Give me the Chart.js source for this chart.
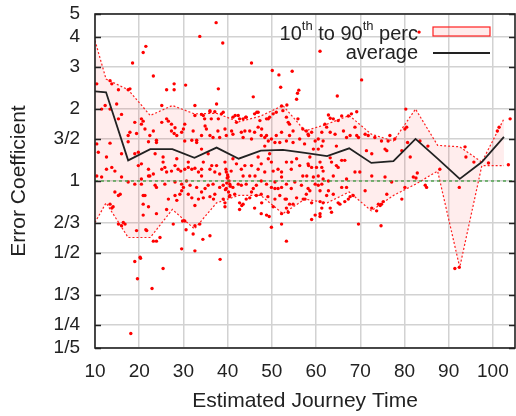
<!DOCTYPE html>
<html>
<head>
<meta charset="utf-8">
<script src="https://cdn.jsdelivr.net/npm/chart.js@4.4.1/dist/chart.umd.min.js"></script>
<style>
html, body { margin: 0; padding: 0; background: #fff; }
</style>
</head>
<body>
<canvas id="errChart" width="516" height="416"></canvas>
<script>
// bin centres of the percentile / average curves
var binX = [10, 12.5, 17.5, 22.5, 27.5, 32.5, 37.5, 42.5, 47.5, 52.5, 57.5, 62.5, 67.5, 72.5, 77.5, 82.5, 87.5, 92.5, 97.5, 102.5];
var avgY = [2.37, 2.35, 1.22, 1.36, 1.36, 1.25, 1.38, 1.24, 1.34, 1.35, 1.31, 1.27, 1.37, 1.19, 1.21, 1.50, 1.24, 1.02, 1.20, 1.53];
var p90Y = [3.87, 2.67, 2.41, 1.88, 2.07, 1.91, 1.92, 1.77, 1.87, 2.07, 1.62, 1.73, 1.88, 1.57, 1.47, 2.00, 1.41, 1.39, 1.20, 1.82];
var p10Y = [0.67, 0.81, 0.58, 0.58, 0.76, 0.63, 0.81, 0.87, 0.87, 0.73, 0.84, 0.81, 0.90, 0.75, 0.87, 0.97, 1.10, 0.435, 1.16, 1.16];

// individual journeys [estimated time, error coefficient]
var points = [
  [10.4,2.55],[13.4,2.63],[13.8,2.55],[15.3,2.41],[17.5,2.41],[17.9,2.43],[23.2,2.75],[26.2,2.41],[27.9,2.55],[27.9,2.41],[30.5,2.52],
  [11.5,2.0],[12.3,2.07],[13.4,2.0],[14.9,2.1],[16,1.9],[15.3,1.82],[17.5,1.55],[17.5,1.46],[19.4,1.58],[20.5,1.73],[20.9,1.78],[23.2,1.62],[22.1,1.46],[25.1,2.07],[26.2,1.82],[26.6,1.78],[27.3,1.73],[28.1,1.67],[27.9,1.58],[28.5,1.55],[30,1.65],[30.3,1.73],[32.2,1.62],[32.6,2.07],[34.1,1.9],[34.1,1.55],[33,1.48],[31.9,1.48],
  [10.75,1.32],[12.6,1.26],[13.4,1.44],[10.4,1.43],[16,1.3],[19,1.3],[19.8,1.32],[20.5,1.18],[22.1,1.12],[23.9,1.48],[23.6,1.3],[25.4,1.26],[25.4,1.2],[25.1,1.12],[25.8,1.14],[26.2,1.09],[28.5,1.24],[28.1,1.16],[28.8,1.12],[29.4,1.1],[30.3,1.12],[31.1,1.14],[31.9,1.12],[32.6,1.13],[33.4,1.09],[34.1,1.12],
  [13.8,1.14],[14.5,1.1],[12.6,1.12],[10.4,1.05],[11.5,1.04],[16,1.04],[17.5,0.99],[19,0.97],[20.5,1.02],[20.5,0.97],[22.4,1.05],[23.2,1.07],[23.9,0.94],[25.8,0.97],[28.1,0.99],[29.6,0.97],[30,0.94],[30.7,1.0],[31.5,0.96],[33,0.94],
  [14.5,0.9],[15.3,0.87],[15.7,0.88],[13.4,0.8],[13.8,0.77],[14.1,0.78],[20.9,0.87],[20.9,0.8],[22.1,0.78],[28.1,0.87],[28.5,0.83],[29.2,0.88],[31.1,0.88],[31.9,0.85],[33.4,0.84],
  [20.9,0.72],[23.9,0.73],[26.2,0.76],[30.3,0.68],[32.6,0.65],[15.3,0.66],[16.4,0.67],[16.8,0.66],[16,0.65],[19.4,0.62],[21.7,0.62],[24.7,0.58],[23.2,0.56],[23.9,0.56],[32.2,0.6],[29.6,0.52],[32.6,0.51],[20.2,0.48],
  [21.5,0.625],[19.0,0.46],[20.3,0.475],[19.6,0.39],[25.4,0.43],[22.9,0.355],[18.1,0.23],[30.6,0.625],[34.4,0.57],[36.0,0.59],[38.3,0.47],[27.7,0.66],[29.8,0.68],
  [18.5,3.12],[20.9,3.45],[21.5,3.66],[33.7,4.03],[37.4,4.6],[38.9,3.78],[37.9,2.43],[45.4,3.12],[36.0,1.97],[41.7,1.88],[44.1,1.85],[46.6,1.94],
  [50.1,2.9],[51.6,2.78],[54.6,2.88],[52.0,2.47],[56.1,2.4],[55.8,2.33],[55.6,2.2],[37.5,2.1],[45.8,2.25],[53.4,2.08],[52.2,2.06],
  [60.9,3.49],[64.8,2.27],[70.3,2.65],[80.3,2.0],[83.3,4.2],
  [34.5,1.88],[36,1.95],[34.8,1.82],[36.3,1.82],[37.1,1.95],[38.6,1.91],[39,1.94],[41.2,1.85],[42,1.76],[42.7,1.82],[43.5,1.82],[44.2,1.85],[46.1,1.91],[46.9,1.94],[47.3,1.79],[48.8,1.82],[49.5,1.85],[50.3,1.91],[51,1.94],[52.5,1.97],[53.3,1.85],[54,1.73],[54.8,1.62],[55.9,1.82],[57,1.65],[57.8,1.62],
  [35.2,1.65],[36.7,1.52],[37.8,1.62],[38.2,1.52],[39.4,1.65],[39.7,1.55],[40.9,1.62],[41.2,1.57],[43.1,1.6],[43.5,1.52],[45,1.62],[46.1,1.6],[46.9,1.68],[47.6,1.55],[48.4,1.52],[48.8,1.55],[49.2,1.47],[49.9,1.5],
  [51,1.55],[51.8,1.45],[53.3,1.47],[54,1.55],[54.8,1.45],[56.3,1.5],[57.4,1.43],[58.2,1.57],
  [34.1,1.36],[35.6,1.3],[34.5,1.2],[36,1.12],[37.5,1.16],[37.1,1.09],[38.2,1.07],[39.4,1.2],[39.7,1.09],[40.1,1.04],[41.2,1.24],[42,1.18],[43.1,1.12],[43.5,1.05],[45,1.05],[45.4,1.16],[46.9,1.26],[46.9,1.12],[47.6,1.18],[48.4,1.09],[49.5,1.3],[49.9,1.2],[50.3,1.1],[51.4,1.12],[52.2,1.04],[53.3,1.2],[54.4,1.12],[55.6,1.24],[56.3,1.16],[57,1.05],[58.2,1.18],
  [34.1,0.9],[35.6,0.96],[36.7,0.97],[38.2,0.94],[39,0.96],[39.7,0.93],[40.5,0.97],[41.2,0.94],[42.4,0.97],[43.1,0.96],[44.2,0.97],[45.8,0.93],[46.5,0.96],[47.6,1.0],[48.8,0.97],[49.9,0.94],[50.7,0.99],[51.4,0.93],[52.2,0.94],[53.3,0.97],[54.4,0.93],[55.2,0.99],[56.7,0.96],[58.2,0.93],
  [34.5,0.85],[36,0.86],[37.1,0.88],[39,0.84],[40.5,0.87],[41.6,0.88],[43.5,0.8],[45,0.85],[46.5,0.87],[47.6,0.88],[49.1,0.86],[50.7,0.84],[51.8,0.87],[53.3,0.84],[54,0.8],[55.6,0.85],[57.1,0.84],[57.8,0.88],
  [39.4,0.81],[39.4,0.78],[42.7,0.81],[42.7,0.76],[44.2,0.84],[46.1,0.77],[47.6,0.73],[48.8,0.72],[50.3,0.78],[52.2,0.73],[53.3,0.77],[53.7,0.74],[54.8,0.8],
  [49.9,0.64],[52.2,0.66],[53.3,0.56],[33.7,0.66],[49.4,0.71],
  [39.6,1.12],[40.0,1.06],[40.3,1.0],[39.8,0.98],[40.6,0.95],[39.5,0.92],[40.2,0.9],[40.8,1.1],[39.9,1.03],[40.4,0.86],
  [17.9,1.6],[19,1.76],[20.5,1.82],[21.3,1.65],[22.4,1.55],[23.9,1.45],[25.1,1.76],[27.3,1.62],[29.6,1.6],[32.6,1.88],[34.9,1.7],[33,1.45],[30.3,1.47],[36,1.55],[37.9,1.82],
  [42.4,1.88],[43.9,1.62],[45.4,1.5],[47.7,1.65],[49.2,1.82],[50.7,1.45],[52.2,1.6],[53.7,1.76],[48.4,1.4],
  [21.3,0.87],[23.6,0.96],[26.6,0.84],[29.6,0.91],[32.6,0.79],[34.9,0.93],[36.8,0.84],[43.2,0.79],[45.4,0.9],[47.7,0.81],[50.7,0.93],[53,0.84],
  [19.8,1.16],[22.1,1.05],[27.3,1.1],[31.1,1.2],[34.1,1.05],[36.4,1.16],[43.9,1.16],[46.2,1.05],[49.2,1.24],[52.2,1.09],[54.5,1.2],
  [69.2,1.95],[68.0,1.91],[67.3,1.87],[65.8,1.87],[65,1.79],[63.9,1.82],[62.8,1.89],[63.2,1.83],[62,1.73],[62.4,1.68],[61.3,1.6],[63.2,1.6],[64.3,1.57],
  [59,1.6],[58.3,1.55],[59.8,1.47],[60.5,1.5],[61.6,1.47],[59.4,1.36],[60.5,1.36],[61.3,1.4],
  [66.2,1.62],[66.9,1.52],[67.7,1.55],[68.8,1.68],[69.2,1.55],[69.6,1.52],[71.1,1.57],[71.8,1.55],[73.3,1.52],[74.8,1.47],[76.3,1.47],[76.7,1.55],[77.8,1.5],
  [71.4,1.34],[72.6,1.3],[75.6,1.36],[76,1.34],[79.4,1.34],[64.6,1.4],[65.8,1.22],[66.5,1.22],[64.6,1.16],[65,1.14],[63.5,1.2],[63.2,1.25],
  [58.6,1.26],[58.3,1.16],[59,1.14],[60.1,1.14],[60.9,1.2],[61.3,1.14],[61.6,1.1],[57.9,1.05],[59.4,1.04],[60.5,1.05],[61.6,1.02],[62.8,1.0],[63.9,1.05],
  [66.9,1.02],[68.8,1.09],[69.9,1.09],[72.6,1.05],[75.6,1.04],[77.1,0.99],[80.1,0.94],[82,1.04],
  [59.8,0.97],[60.5,0.96],[61.3,0.97],[58.6,0.91],[60.9,0.91],[62.8,0.91],[62.4,0.87],[63.9,0.88],[65.8,0.94],[66.9,0.94],[67.7,0.86],[68.4,0.87],[71.1,0.91],[74.1,0.8],[76,0.88],[79.4,0.84],
  [57.5,0.84],[59,0.81],[60.9,0.82],[61.6,0.81],[61.3,0.77],[63.2,0.77],[63.5,0.74],[65,0.81],[65.4,0.8],[66.5,0.82],[67.3,0.84],[72.6,0.77],[73.7,0.75],[74.5,0.79],[74.8,0.8],[75.2,0.82],
  [59,0.69],[59.8,0.72],[60.9,0.73],[60.9,0.71],[69.6,0.66],[74.7,0.65],
  [80.5,1.68],[80.1,1.65],[80.7,1.45],[81.3,1.26],[83.5,1.47],[85.3,1.4],[82.9,1.08],[82.6,1.03],[84.7,0.96],[85,0.94],[88,1.12],[92.4,0.94],
  [93.7,1.39],[93.9,1.26],[95.7,1.2],[99,1.19],[101,1.62],[101.4,1.68],[103.9,1.82],[103.5,1.17],[91.4,0.43],[92.4,0.435]
];

var refLevel = 1;
var xMin = 10, xMax = 105;
var xTicks = [10, 20, 30, 40, 50, 60, 70, 80, 90, 100];
var yTickValues = [0.2, 0.25, 1/3, 0.5, 2/3, 1, 1.5, 2, 3, 4, 5];
var yTickLabels = ['1/5', '1/4', '1/3', '1/2', '2/3', '1', '3/2', '2', '3', '4', '5'];

var FONT = '"Liberation Sans", Arial, sans-serif';
var TEXT = '#222222';

function xy(xs, ys) {
    return xs.map(function (x, i) { return { x: x, y: ys[i] }; });
}

// frame, inner y ticks and the key
var framePlugin = {
    id: 'frame',
    afterDatasetsDraw: function (chart) {
        var ctx = chart.ctx;
        var a = chart.chartArea;
        var y = chart.scales.y;
        ctx.save();
        ctx.strokeStyle = '#222';
        ctx.lineWidth = 1.3;
        yTickValues.forEach(function (v) {
            var py = Math.round(y.getPixelForValue(v)) + 0.5;
            ctx.beginPath();
            ctx.moveTo(a.left, py); ctx.lineTo(a.left + 6, py);
            ctx.moveTo(a.right, py); ctx.lineTo(a.right - 6, py);
            ctx.stroke();
        });
        ctx.lineWidth = 1.6;
        ctx.strokeRect(a.left, a.top, a.right - a.left, a.bottom - a.top);
        ctx.restore();
    },
    afterDraw: function (chart) {
        var ctx = chart.ctx;
        ctx.save();
        ctx.fillStyle = TEXT;
        ctx.textBaseline = 'middle';
        ctx.textAlign = 'left';
        var parts = [['10', 0], ['th', 1], [' to 90', 0], ['th', 1], [' perc', 0]];
        var big = '20px ' + FONT, small = '13px ' + FONT;
        var w = 0;
        parts.forEach(function (p) {
            ctx.font = p[1] ? small : big;
            w += ctx.measureText(p[0]).width;
        });
        var right = 418, row1 = 34, row2 = 53;
        var px = right - w;
        parts.forEach(function (p) {
            ctx.font = p[1] ? small : big;
            ctx.fillText(p[0], px, p[1] ? row1 - 8 : row1);
            px += ctx.measureText(p[0]).width;
        });
        ctx.font = big;
        ctx.textAlign = 'right';
        ctx.fillText('average', right, row2);

        ctx.fillStyle = 'rgba(255,0,0,0.08)';
        ctx.fillRect(433, 27, 57, 9);
        ctx.strokeStyle = '#ff2020';
        ctx.lineWidth = 1.2;
        ctx.strokeRect(433, 27, 57, 9);
        ctx.strokeStyle = '#222';
        ctx.lineWidth = 1.8;
        ctx.beginPath();
        ctx.moveTo(433, row2); ctx.lineTo(490, row2);
        ctx.stroke();
        ctx.restore();
    }
};

new Chart(document.getElementById('errChart').getContext('2d'), {
    type: 'scatter',
    data: {
        datasets: [{
            type: 'line',
            data: xy(binX, p90Y),
            borderColor: '#ff2020',
            borderWidth: 1.2,
            borderDash: [2, 2],
            backgroundColor: 'rgba(255,0,0,0.07)',
            pointRadius: 0,
            fill: '+1',
            order: 4
        }, {
            type: 'line',
            data: xy(binX, p10Y),
            borderColor: '#ff2020',
            borderWidth: 1.2,
            borderDash: [2, 2],
            pointRadius: 0,
            fill: false,
            order: 4
        }, {
            data: points.map(function (p) { return { x: p[0], y: p[1] }; }),
            pointRadius: 1.7,
            pointBorderWidth: 0,
            backgroundColor: '#ff0000',
            order: 2
        }, {
            type: 'line',
            data: [{ x: xMin, y: refLevel }, { x: xMax, y: refLevel }],
            borderColor: '#3c9c3c',
            borderWidth: 1.3,
            borderDash: [3, 3],
            pointRadius: 0,
            fill: false,
            order: 1
        }, {
            type: 'line',
            data: xy(binX, avgY),
            borderColor: '#222222',
            borderWidth: 1.8,
            pointRadius: 0,
            fill: false,
            order: 0
        }]
    },
    options: {
        responsive: false,
        animation: false,
        layout: { autoPadding: false, padding: { top: 14, right: 1, left: 0, bottom: 0 } },
        plugins: { legend: { display: false }, tooltip: { enabled: false } },
        scales: {
            x: {
                type: 'linear',
                min: xMin,
                max: xMax,
                afterBuildTicks: function (scale) {
                    scale.ticks = xTicks.map(function (v) { return { value: v }; });
                },
                afterFit: function (scale) {
                    scale.height = 68;
                    scale.paddingLeft = 0;
                    scale.paddingRight = 0;
                },
                grid: { color: '#d2d2d2', lineWidth: 1.5, drawTicks: false },
                border: { display: false },
                ticks: { color: TEXT, font: { family: FONT, size: 19 }, padding: 12, maxRotation: 0, autoSkip: false },
                title: { display: true, text: 'Estimated Journey Time', color: TEXT, font: { family: FONT, size: 21 }, padding: { top: 0, bottom: 2 } }
            },
            y: {
                type: 'logarithmic',
                min: 0.2,
                max: 5,
                afterBuildTicks: function (scale) {
                    scale.ticks = yTickValues.map(function (v) { return { value: v }; });
                },
                afterFit: function (scale) {
                    scale.width = 95;
                    scale.paddingTop = 0;
                    scale.paddingBottom = 0;
                },
                grid: { color: '#d2d2d2', lineWidth: 1.5, drawTicks: false },
                border: { display: false },
                ticks: {
                    color: TEXT,
                    font: { family: FONT, size: 19 },
                    padding: 15,
                    autoSkip: false,
                    callback: function (value, index) { return yTickLabels[index]; }
                },
                title: { display: true, text: 'Error Coefficient', color: TEXT, font: { family: FONT, size: 21 }, padding: { top: 7, bottom: 0 } }
            }
        }
    },
    plugins: [framePlugin]
});
</script>
</body>
</html>
